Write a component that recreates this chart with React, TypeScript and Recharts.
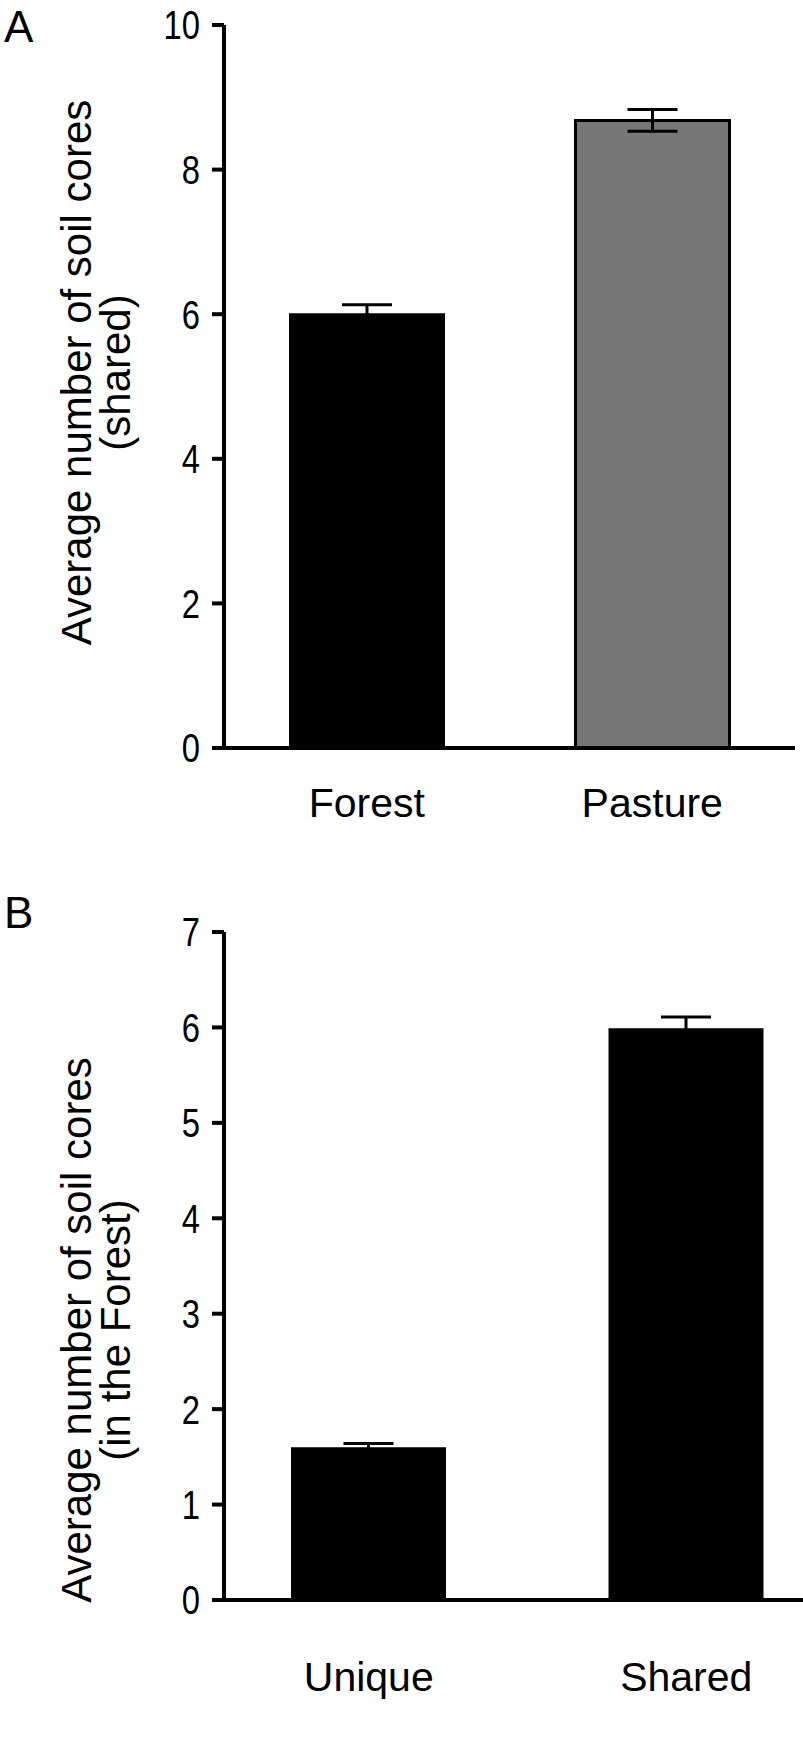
import React from 'react';
import { BarChart, Bar, XAxis, YAxis, ErrorBar, Cell } from 'recharts';

// Panel A: cores shared, by land use
const habitats = ['Forest', 'Pasture'];
const sharedMeans = [6.0, 8.68];
const sharedErr = [0.13, 0.15];
const sharedTicks = [0, 2, 4, 6, 8, 10];

// Panel B: cores in the forest, unique vs shared
const coreTypes = ['Unique', 'Shared'];
const forestMeans = [1.59, 5.98];
const forestErr = [0.05, 0.13];
const forestTicks = [0, 1, 2, 3, 4, 5, 6, 7];

const FONT = '"Liberation Sans", Arial, Helvetica, sans-serif';

const dataA = habitats.map((name, i) => ({ name, value: sharedMeans[i], err: sharedErr[i] }));
const dataB = coreTypes.map((name, i) => ({ name, value: forestMeans[i], err: forestErr[i] }));

const yLabel = (lines: string[], x: number, shift: number) => (props: any) => {
    const vb = props.viewBox || {};
    const cy = (vb.y || 0) + (vb.height || 0) / 2 + shift;
    return (
        <text
            x={x}
            y={cy}
            transform={`rotate(-90, ${x}, ${cy})`}
            textAnchor="middle"
            fontFamily={FONT}
            fontSize={42}
            fill="#000"
        >
            {lines.map((l, i) => (
                <tspan key={l} x={x} dy={i === 0 ? 0 : 39}>{l}</tspan>
            ))}
        </text>
    );
};

// the digits in the original are a bit narrower than plain Arial
const NarrowTick = (props: any) => {
    const { x, y, payload } = props;
    return (
        <text
            transform={`translate(${x}, ${y}) scale(0.82, 1)`}
            textAnchor="end"
            dy="0.36em"
            fontFamily={FONT}
            fontSize={40}
            fill="#000"
        >
            {payload.value}
        </text>
    );
};

const axisStyle = { stroke: '#000', strokeWidth: 4 };
const catFont = { fontFamily: FONT, fontSize: 41, fill: '#000' };

const letter = (ch: string, top: number) => (
    <div style={{
        position: 'absolute', left: 4, top, fontFamily: FONT, fontSize: 44, lineHeight: 1, color: '#000',
    }}>{ch}</div>
);

export default function App() {
    return (
        <div style={{ position: 'absolute', left: 0, top: 0, width: 803, height: 1746, background: '#fff', overflow: 'hidden' }}>
            {letter('A', 5)}
            {letter('B', 891)}

            {/* Panel A */}
            <div style={{ position: 'absolute', left: 0, top: 0 }}>
                <BarChart width={803} height={870} data={dataA} margin={{ top: 25, right: 8, left: 0, bottom: 0 }} barSize={154}>
                    <XAxis
                        dataKey="name"
                        height={122}
                        axisLine={axisStyle}
                        tickLine={false}
                        tickSize={0}
                        tickMargin={40}
                        tick={catFont}
                    />
                    <YAxis
                        width={224}
                        domain={[0, 10]}
                        ticks={sharedTicks}
                        interval={0}
                        axisLine={axisStyle}
                        tickLine={axisStyle}
                        tickSize={12}
                        tickMargin={12}
                        tick={<NarrowTick />}
                        label={{ content: yLabel(['Average number of soil cores', '(shared)'], 91, -14) }}
                    />
                    <Bar dataKey="value" isAnimationActive={false}>
                        <Cell fill="#000" stroke="#000" strokeWidth={2} />
                        <Cell fill="#777777" stroke="#000" strokeWidth={3} />
                        <ErrorBar dataKey="err" width={25} stroke="#000" strokeWidth={3} isAnimationActive={false} />
                    </Bar>
                </BarChart>
            </div>

            {/* Panel B */}
            <div style={{ position: 'absolute', left: 0, top: 880 }}>
                <BarChart width={803} height={866} data={dataB} margin={{ top: 52, right: 0, left: 0, bottom: 0 }} barSize={153}>
                    <XAxis
                        dataKey="name"
                        height={146}
                        axisLine={axisStyle}
                        tickLine={false}
                        tickSize={0}
                        tickMargin={62}
                        tick={catFont}
                        padding={{ left: -14, right: -42 }}
                    />
                    <YAxis
                        width={224}
                        domain={[0, 7]}
                        ticks={forestTicks}
                        interval={0}
                        axisLine={axisStyle}
                        tickLine={axisStyle}
                        tickSize={12}
                        tickMargin={12}
                        tick={<NarrowTick />}
                        label={{ content: yLabel(['Average number of soil cores', '(in the Forest)'], 91, 64) }}
                    />
                    <Bar dataKey="value" fill="#000" stroke="#000" strokeWidth={2} isAnimationActive={false}>
                        <ErrorBar dataKey="err" width={25} stroke="#000" strokeWidth={3} isAnimationActive={false} />
                    </Bar>
                </BarChart>
            </div>
        </div>
    );
}
